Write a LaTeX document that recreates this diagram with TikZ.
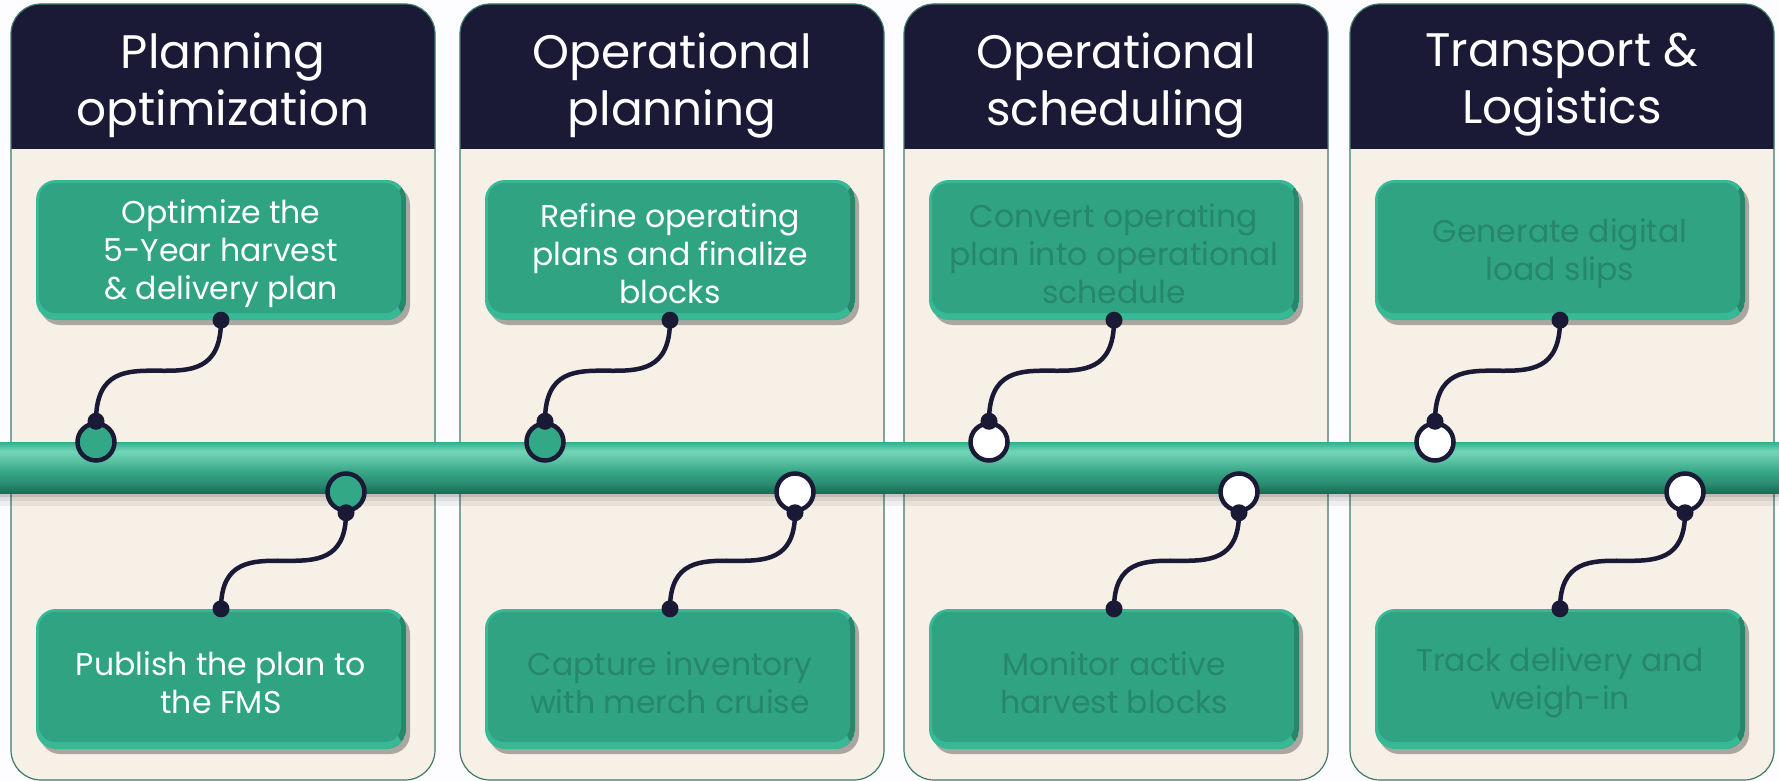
\documentclass[tikz,border=0pt]{standalone}
\usepackage{fontspec}
\setmainfont{Poppins}
\usetikzlibrary{shadows}
\definecolor{navy}{HTML}{1A1936}
\definecolor{cream}{HTML}{F6F0E6}
\definecolor{panelborder}{HTML}{3F7A68}
\definecolor{boxgreen}{HTML}{30A383}
\definecolor{boxlight}{HTML}{38B995}
\definecolor{boxdark}{HTML}{28876B}
\definecolor{fadedtext}{HTML}{26876A}
\definecolor{dotgreen}{HTML}{33A887}
\definecolor{bgwhite}{HTML}{FDFCFF}
\definecolor{barA}{HTML}{2EB08D}
\definecolor{barB}{HTML}{74D4B7}
\definecolor{barC}{HTML}{5CC4A5}
\definecolor{barD}{HTML}{3AA989}
\definecolor{barE}{HTML}{2A8E71}
\definecolor{barF}{HTML}{1B6A54}
\pgfdeclareverticalshading{barshade}{100bp}{color(0bp)=(barF); color(25bp)=(barF); color(35bp)=(barE); color(47.5bp)=(barD); color(57.5bp)=(barC); color(66bp)=(barB); color(75bp)=(barA); color(100bp)=(barA)}
\begin{document}
\begin{tikzpicture}[x=1pt,y=-1pt,
  panel/.style={draw=panelborder, line width=1.2pt, rounded corners=30pt},
  title/.style={text=white, align=center, font=\fontsize{47}{57}\selectfont},
  box/.style={rounded corners=20pt, minimum width=370pt, minimum height=140pt, inner sep=0pt,
    fill=boxlight,
    drop shadow={shadow xshift=4pt, shadow yshift=-5pt, opacity=0.3, fill=black},
    path picture={
      \fill[boxdark] ([xshift=-9pt]path picture bounding box.north east) rectangle (path picture bounding box.south east);
      \fill[boxgreen, rounded corners=16pt] ([xshift=3pt,yshift=-3pt]path picture bounding box.north west) rectangle ([xshift=-5pt,yshift=7pt]path picture bounding box.south east);
    }},
  boxtext/.style={align=center, inner sep=0pt, font=\fontsize{31.5}{38}\selectfont},
  wtext/.style={boxtext, text=white},
  ftext/.style={boxtext, text=fadedtext},
  milestone/.style={circle, draw=navy, line width=4.5pt, minimum size=37pt, inner sep=0pt},
  greenms/.style={milestone, fill=dotgreen},
  whitems/.style={milestone, fill=white},
  link/.style={draw=navy, line width=4.5pt},
  knob/.style={fill=navy}
]
\useasboundingbox (0,0) rectangle (1779,781);
\fill[bgwhite] (0,0) rectangle (1779,781);

% panels
\foreach \L in {11,460,904,1350}{
  \fill[cream, rounded corners=30pt] (\L,4) rectangle ({\L+424},780);
  \begin{scope}
    \clip (\L,0) rectangle ({\L+424},148);
    \fill[navy, rounded corners=30pt] (\L,4) rectangle ({\L+424},220);
  \end{scope}
  \draw[panel] (\L,4) rectangle ({\L+424},780);
}

% titles
\node[title] (h1) at (223,85) {Planning\\optimization};
\node[title] (h2) at (672,85) {Operational\\planning};
\node[title] (h3) at (1116,85) {Operational\\scheduling};
\node[title] (h4) at (1562,85) {Transport \&\\Logistics};

% bar shadow and bar
\fill[black, opacity=0.22] (0,493) rectangle (1779,497);
\fill[black, opacity=0.12] (0,497) rectangle (1779,501);
\fill[black, opacity=0.06] (0,501) rectangle (1779,506);
\shade[shading=barshade] (0,442) rectangle (1779,493);

% milestones
\node[greenms] (c1u) at (96,442) {};
\node[greenms] (c1l) at (346,492) {};
\node[greenms] (c2u) at (545,442) {};
\node[whitems] (c2l) at (795,492) {};
\node[whitems] (c3u) at (989,442) {};
\node[whitems] (c3l) at (1239,492) {};
\node[whitems] (c4u) at (1435,442) {};
\node[whitems] (c4l) at (1685,492) {};

% boxes
\node[box] (u1) at (221,250) {};
\node[box] (l1) at (221,679) {};
\node[box] (u2) at (670,250) {};
\node[box] (l2) at (670,679) {};
\node[box] (u3) at (1114,250) {};
\node[box] (l3) at (1114,679) {};
\node[box] (u4) at (1560,250) {};
\node[box] (l4) at (1560,679) {};

% box texts
\node[wtext] (u1t) at ([yshift=-4pt]u1.center) {Optimize the\\5-Year harvest\\\& delivery plan};
\node[wtext] (l1t) at ([yshift=-4pt]l1.center) {Publish the plan to\\the FMS};
\node[wtext] (u2t) at ([yshift=-4pt]u2.center) {Refine operating\\plans and finalize\\blocks};
\node[ftext] (l2t) at ([yshift=-4pt]l2.center) {Capture inventory\\with merch cruise};
\node[ftext] (u3t) at ([yshift=-4pt]u3.center) {Convert operating\\plan into operational\\schedule};
\node[ftext] (l3t) at ([yshift=-4pt]l3.center) {Monitor active\\harvest blocks};
\node[ftext] (u4t) at ([yshift=-4pt]u4.center) {Generate digital\\load slips};
\node[ftext] (l4t) at ([yshift=-4pt]l4.center) {Track delivery and\\weigh-in};

% connectors
\foreach \b/\c in {u1/c1u,u2/c2u,u3/c3u,u4/c4u}{
  \draw[link] (\b.south) .. controls +(0,102) and +(0,-102) .. (\c.north);
  \fill[knob] (\b.south) circle (8.5pt);
  \fill[knob] (\c.north) circle (8.5pt);
}
\foreach \b/\c in {l1/c1l,l2/c2l,l3/c3l,l4/c4l}{
  \draw[link] (\c.south) .. controls +(0,97) and +(0,-97) .. (\b.north);
  \fill[knob] (\b.north) circle (8.5pt);
  \fill[knob] (\c.south) circle (8.5pt);
}
\end{tikzpicture}
\end{document}
